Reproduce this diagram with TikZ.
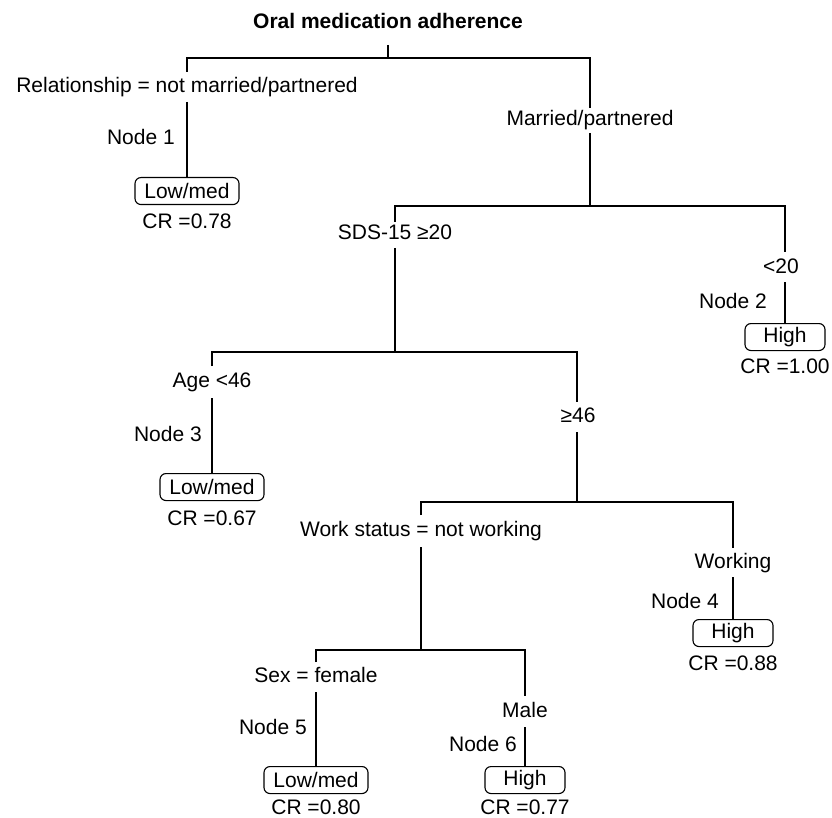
\documentclass[tikz,border=0pt]{standalone}
\usepackage{fontspec}
\setmainfont{Liberation Sans}
\begin{document}
\begin{tikzpicture}[x=1pt,y=-1pt,
  every node/.style={font=\fontsize{21}{25}\selectfont, inner sep=0pt},
  lab/.style={anchor=base},
  nodelab/.style={anchor=base east},
  leaf/.style={draw, rounded corners=6pt, minimum height=27pt, anchor=north, line width=1.1pt},
  lowbox/.style={leaf, minimum width=104pt},
  highbox/.style={leaf, minimum width=80pt},
  edge/.style={line width=1.1pt, line join=miter}]
\useasboundingbox (0,0) rectangle (832,818);

% title and root
\node[lab, font=\bfseries\fontsize{21}{25}\selectfont] (title) at (388,29) {Oral medication adherence};
\coordinate (r0) at (388,45);
\coordinate (r1) at (388,58);
\draw[edge] (r0) -- (r1);

% split 1
\coordinate (s1l) at (187,58);
\coordinate (s1r) at (590,58);
\coordinate (g1a) at (187,72);
\coordinate (g1b) at (187,102);
\coordinate (g2a) at (590,108);
\coordinate (g2b) at (590,133);
\draw[edge] (g1a) -- (s1l) -- (s1r) -- (g2a);
\node[lab] (c1) at (187,93) {Relationship = not married/partnered};
\node[lab] (c2) at (590,126) {Married/partnered};
\node[nodelab] (n1) at (175,145) {Node 1};
\node[lowbox] (b1) at (187,177) {Low/med};
\node[lab] (cr1) at (187,229) {CR =0.78};
\draw[edge] (g1b) -- (b1.north);

% split 2
\coordinate (s2l) at (395,206);
\coordinate (s2r) at (785,206);
\coordinate (s2m) at (590,206);
\coordinate (g3a) at (395,222);
\coordinate (g3b) at (395,248);
\coordinate (g4a) at (785,252);
\coordinate (g4b) at (785,282);
\draw[edge] (g2b) -- (s2m);
\draw[edge] (g3a) -- (s2l) -- (s2r) -- (g4a);
\node[lab] (c3) at (395,240) {SDS-15 ≥20};
\node[lab] (c4) at (781,273) {<20};
\node[nodelab] (n2) at (767,308) {Node 2};
\node[highbox] (b2) at (785,323) {High};
\node[lab] (cr2) at (785,373) {CR =1.00};
\draw[edge] (g4b) -- (b2.north);

% split 3
\coordinate (s3l) at (212,352);
\coordinate (s3r) at (577,352);
\coordinate (s3m) at (395,352);
\coordinate (g5a) at (212,366);
\coordinate (g5b) at (212,398);
\coordinate (g6a) at (577,402);
\coordinate (g6b) at (577,432);
\draw[edge] (g3b) -- (s3m);
\draw[edge] (g5a) -- (s3l) -- (s3r) -- (g6a);
\node[lab] (c5) at (212,387) {Age <46};
\node[lab] (c6) at (578,422) {≥46};
\node[nodelab] (n3) at (202,441) {Node 3};
\node[lowbox] (b3) at (212,473) {Low/med};
\node[lab] (cr3) at (212,525) {CR =0.67};
\draw[edge] (g5b) -- (b3.north);

% split 4
\coordinate (s4l) at (421,502);
\coordinate (s4r) at (733,502);
\coordinate (s4m) at (577,502);
\coordinate (g7a) at (421,515);
\coordinate (g7b) at (421,547);
\coordinate (g8a) at (733,548);
\coordinate (g8b) at (733,577);
\draw[edge] (g6b) -- (s4m);
\draw[edge] (g7a) -- (s4l) -- (s4r) -- (g8a);
\node[lab] (c7) at (421,536) {Work status = not working};
\node[lab] (c8) at (733,568) {Working};
\node[nodelab] (n4) at (719,608) {Node 4};
\node[highbox] (b4) at (733,619) {High};
\node[lab] (cr4) at (733,670) {CR =0.88};
\draw[edge] (g8b) -- (b4.north);

% split 5
\coordinate (s5l) at (316,650);
\coordinate (s5r) at (525,650);
\coordinate (s5m) at (421,650);
\coordinate (g9a) at (316,662);
\coordinate (g9b) at (316,692);
\coordinate (g10a) at (525,696);
\coordinate (g10b) at (525,727);
\draw[edge] (g7b) -- (s5m);
\draw[edge] (g9a) -- (s5l) -- (s5r) -- (g10a);
\node[lab] (c9) at (316,682) {Sex = female};
\node[lab] (c10) at (525,717) {Male};
\node[nodelab] (n5) at (307,734) {Node 5};
\node[lowbox] (b5) at (316,766) {Low/med};
\node[lab] (cr5) at (316,814) {CR =0.80};
\draw[edge] (g9b) -- (b5.north);
\node[nodelab] (n6) at (517,751) {Node 6};
\node[highbox] (b6) at (525,766) {High};
\node[lab] (cr6) at (525,814) {CR =0.77};
\draw[edge] (g10b) -- (b6.north);
\end{tikzpicture}
\end{document}
